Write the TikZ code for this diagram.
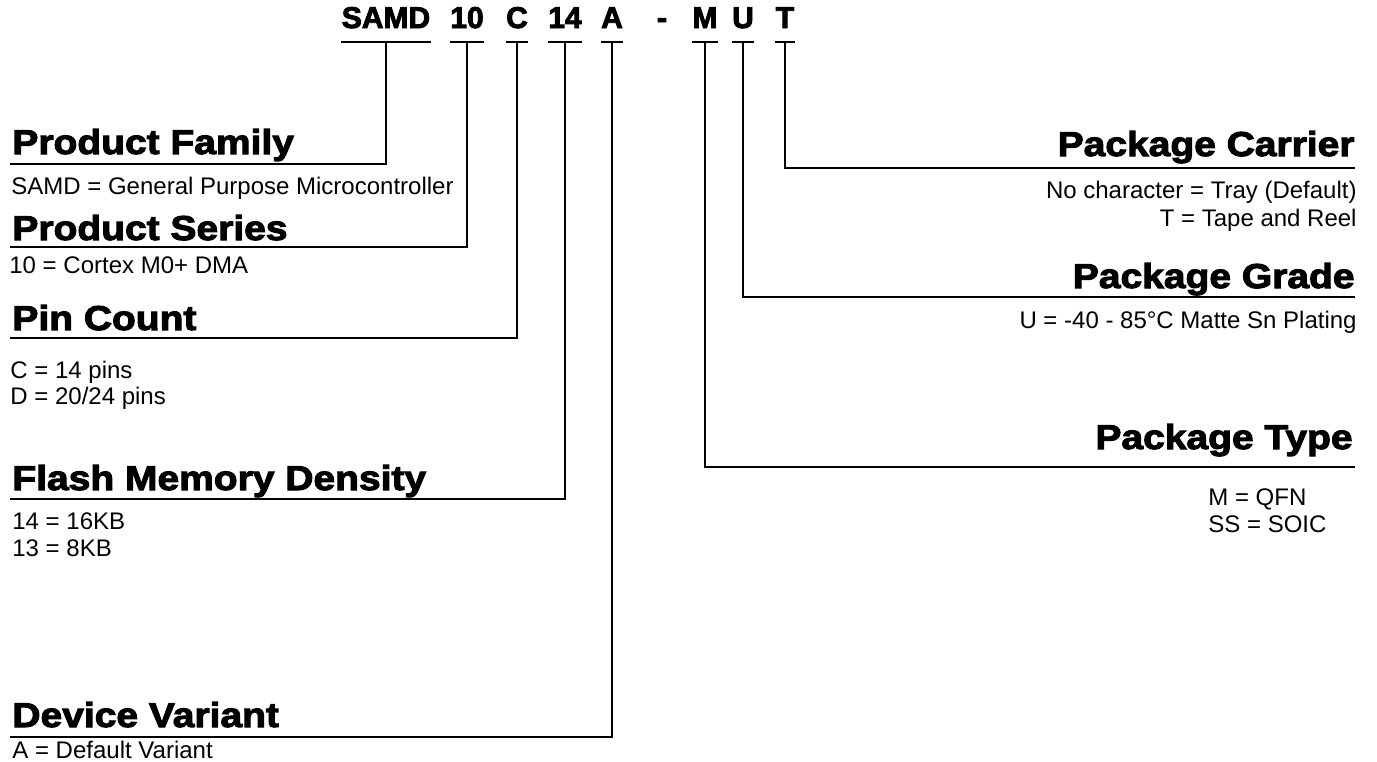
\documentclass[tikz,border=0pt]{standalone}
\usepackage{fontspec}
\setmainfont{Liberation Sans}
\newfontfamily\headfont{Liberation Sans}[BoldFeatures={FakeBold=3,FakeStretch=1.13}]
\newfontfamily\titlefont{Liberation Sans}[BoldFeatures={FakeBold=3,FakeStretch=1.0}]
\begin{document}
\begin{tikzpicture}[x=0.5pt,y=-0.5pt,
  title/.style={font=\titlefont\bfseries\fontsize{15pt}{15pt}\selectfont, inner sep=0pt, anchor=base},
  head/.style={font=\headfont\bfseries\fontsize{17.25pt}{17.25pt}\selectfont, inner sep=0pt},
  body/.style={font=\fontsize{12pt}{12pt}\selectfont, inner sep=0pt},
  uline/.style={line width=1pt},
  conn/.style={line width=1pt}]
\useasboundingbox (0,0) rectangle (1377,761);
% part number
\node[title] (p1) at (386,28) {SAMD};
\node[title] (p2) at (467,28) {10};
\node[title] (p3) at (517,28) {C};
\node[title] (p4) at (565,28) {14};
\node[title] (p5) at (612,28) {A};
\node[title] (p6) at (662,28) {-};
\node[title] (p7) at (705,28) {M};
\node[title] (p8) at (743,28) {U};
\node[title] (p9) at (785,28) {T};
\foreach \n in {p1,p2,p3,p4,p5,p7,p8,p9}{
  \draw[uline] ([yshift=-7pt]\n.base west) -- ([yshift=-7pt]\n.base east);
}
% left headings
\node[head, anchor=base west] (fam) at (12,154) {Product Family};
\node[body, anchor=base west] (famd) at (11,194) {SAMD = General Purpose Microcontroller};
\coordinate (famL) at (10,164);
\node[head, anchor=base west] (ser) at (12,240) {Product Series};
\node[body, anchor=base west] (serd) at (9,273) {10 = Cortex M0+ DMA};
\coordinate (serL) at (10,247);
\node[head, anchor=base west] (pin) at (12,330) {Pin Count};
\node[body, anchor=base west] (pind1) at (10,378) {C = 14 pins};
\node[body, anchor=base west] (pind2) at (10,404) {D = 20/24 pins};
\coordinate (pinL) at (10,338);
\node[head, anchor=base west] (fla) at (12,490) {Flash Memory Density};
\node[body, anchor=base west] (flad1) at (12,529) {14 = 16KB};
\node[body, anchor=base west] (flad2) at (12,556) {13 = 8KB};
\coordinate (flaL) at (10,499);
\node[head, anchor=base west] (dev) at (12,727) {Device Variant};
\node[body, anchor=base west] (devd) at (12,758) {A = Default Variant};
\coordinate (devL) at (10,737);
% right headings
\node[head, anchor=base east] (car) at (1355,156) {Package Carrier};
\node[body, anchor=base east] (card1) at (1357,198) {No character = Tray (Default)};
\node[body, anchor=base east] (card2) at (1357,226) {T = Tape and Reel};
\coordinate (carR) at (1355,168);
\node[head, anchor=base east] (gra) at (1355,288) {Package Grade};
\node[body, anchor=base east] (grad) at (1357,328) {U = -40 - 85°C Matte Sn Plating};
\coordinate (graR) at (1355,297);
\node[head, anchor=base east] (typ) at (1353,449) {Package Type};
\node[body, anchor=base west] (typd1) at (1208,505) {M = QFN};
\node[body, anchor=base west] (typd2) at (1208,532) {SS = SOIC};
\coordinate (typR) at (1355,467);
% connectors
\draw[conn] ([yshift=-7pt]p1.base) |- (famL);
\draw[conn] ([yshift=-7pt]p2.base) |- (serL);
\draw[conn] ([yshift=-7pt]p3.base) |- (pinL);
\draw[conn] ([yshift=-7pt]p4.base) |- (flaL);
\draw[conn] ([yshift=-7pt]p5.base) |- (devL);
\draw[conn] ([yshift=-7pt]p7.base) |- (typR);
\draw[conn] ([yshift=-7pt]p8.base) |- (graR);
\draw[conn] ([yshift=-7pt]p9.base) |- (carR);
\end{tikzpicture}
\end{document}
